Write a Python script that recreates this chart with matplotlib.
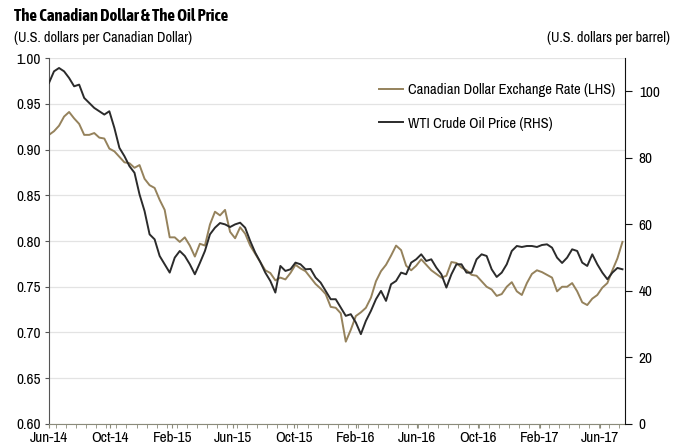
import numpy as np
import pandas as pd
import matplotlib
matplotlib.use('Agg')
import matplotlib.pyplot as plt
import matplotlib.dates as mdates

plt.rcParams['font.family'] = ['Liberation Sans Narrow', 'Archivo Narrow', 'DejaVu Sans']

# readings every 10 days starting 1 June 2014
dates = pd.date_range('2014-06-01', periods=115, freq='10D')

cad = [0.916, 0.920, 0.926, 0.936, 0.941, 0.934, 0.928, 0.916, 0.916, 0.918,
       0.913, 0.912, 0.901, 0.898, 0.892, 0.886, 0.885, 0.880, 0.883, 0.868,
       0.861, 0.858, 0.845, 0.834, 0.804, 0.804, 0.799, 0.804, 0.795, 0.783,
       0.797, 0.795, 0.818, 0.832, 0.828, 0.834, 0.810, 0.803, 0.815, 0.808,
       0.795, 0.786, 0.777, 0.768, 0.765, 0.757, 0.760, 0.758, 0.765, 0.774,
       0.770, 0.767, 0.760, 0.753, 0.748, 0.742, 0.728, 0.727, 0.721, 0.690,
       0.703, 0.718, 0.722, 0.727, 0.738, 0.756, 0.767, 0.774, 0.784, 0.795,
       0.790, 0.773, 0.768, 0.773, 0.780, 0.774, 0.768, 0.764, 0.760, 0.762,
       0.777, 0.776, 0.771, 0.768, 0.763, 0.762, 0.756, 0.750, 0.747, 0.740,
       0.742, 0.750, 0.755, 0.745, 0.741, 0.754, 0.764, 0.768, 0.766, 0.763,
       0.760, 0.745, 0.750, 0.750, 0.754, 0.745, 0.733, 0.730, 0.737, 0.741,
       0.749, 0.754, 0.768, 0.781, 0.799]

wti = [102.5, 106.0, 107.0, 106.0, 104.0, 101.5, 102.0, 98.0, 96.5, 95.0,
       94.0, 93.0, 94.0, 89.0, 83.0, 80.5, 77.5, 75.5, 69.0, 64.0,
       57.0, 55.5, 50.5, 48.0, 45.5, 50.0, 52.0, 50.5, 48.0, 45.0,
       48.4, 52.0, 57.0, 59.0, 60.4, 60.0, 59.2, 60.0, 60.5, 59.0,
       55.0, 51.5, 48.7, 45.5, 43.0, 39.5, 47.5, 46.0, 46.5, 48.5,
       48.0, 46.5, 46.6, 44.0, 42.5, 40.0, 37.5, 37.5, 35.0, 32.5,
       33.0, 30.5, 27.0, 31.0, 34.0, 37.5, 40.0, 37.0, 42.0, 43.0,
       45.5, 45.0, 48.5, 49.5, 51.0, 49.0, 49.5, 47.0, 45.0, 41.0,
       45.0, 48.0, 48.0, 45.5, 45.5, 49.5, 51.0, 50.5, 46.5, 44.2,
       45.5, 48.0, 52.0, 53.5, 53.2, 53.5, 53.5, 53.2, 53.8, 54.0,
       53.0, 50.0, 48.4, 50.0, 52.5, 52.0, 48.5, 47.5, 51.0, 48.0,
       45.5, 43.5, 45.5, 46.9, 46.5]

tan = '#95825c'
dark = '#2b2b2b'

fig = plt.figure(figsize=(6.84, 4.48), dpi=100)
ax = fig.add_axes([0.0716, 0.0536, 0.8421, 0.8169])
ax2 = ax.twinx()

ax.plot(dates, cad, color=tan, lw=1.4, label='Canadian Dollar Exchange Rate (LHS)')
ax2.plot(dates, wti, color=dark, lw=1.4, label='WTI Crude Oil Price (RHS)')

ax.set_ylim(0.60, 1.00)
ax.set_yticks(np.arange(0.60, 1.001, 0.05))
ax.set_yticklabels([f'{v:.2f}' for v in np.arange(0.60, 1.001, 0.05)])
ax2.set_ylim(0, 110)
ax2.set_yticks([0, 20, 40, 60, 80, 100])
ax.set_xlim(pd.Timestamp('2014-06-01'), pd.Timestamp('2017-07-20'))

ax.grid(axis='y', color='#e3e3e3', lw=0.9)
ax.set_axisbelow(True)

ax.xaxis.set_major_locator(mdates.MonthLocator(bymonth=[2, 6, 10]))
ax.xaxis.set_major_formatter(mdates.DateFormatter('%b-%y'))
ax.xaxis.set_minor_locator(mdates.DayLocator(interval=20))

ax.spines['top'].set_visible(False)
ax2.spines['top'].set_visible(False)
ax2.spines['left'].set_visible(False)
ax2.spines['bottom'].set_visible(False)
ax.spines['right'].set_visible(False)
ax.spines['left'].set_color('#555555')
ax.spines['bottom'].set_color('#8a8a7a')
ax2.spines['right'].set_color('#111111')

ax.tick_params(axis='y', length=3, color='#555555', labelsize=11, pad=3)
ax.tick_params(axis='x', which='major', length=3, color='#8a8a7a', labelsize=11, pad=2)
ax.tick_params(axis='x', which='minor', length=3, color='#8a8a7a')
ax2.tick_params(axis='y', length=5, color='#111111', labelsize=11, pad=5)

fig.text(0.021, 0.965, 'The Canadian Dollar & The Oil Price', fontsize=12.1,
         fontweight='bold', family=['Asap Condensed', 'DejaVu Sans'],
         va='center', ha='left')
fig.text(0.02, 0.915, '(U.S. dollars per Canadian Dollar)', fontsize=10.3,
         va='center', ha='left')
fig.text(0.98, 0.915, '(U.S. dollars per barrel)', fontsize=10.3,
         va='center', ha='right')

h1, l1 = ax.get_legend_handles_labels()
h2, l2 = ax2.get_legend_handles_labels()
fig.legend(h1 + h2, l1 + l2, loc='upper left', bbox_to_anchor=(0.545, 0.828),
           frameon=False, fontsize=10.5, handlelength=1.7, handletextpad=0.3,
           labelspacing=1.35, borderaxespad=0)

fig.savefig('out.png', dpi=100)
